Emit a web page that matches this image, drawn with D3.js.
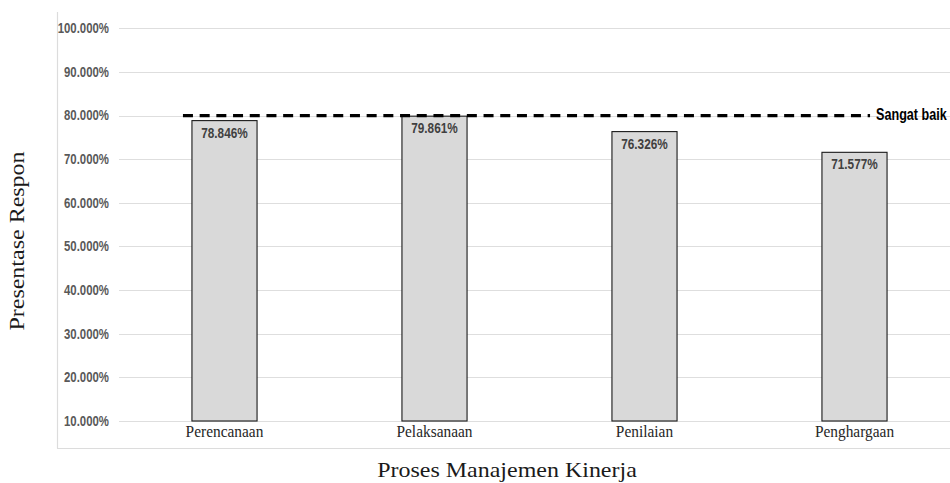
<!DOCTYPE html>
<html>
<head>
<meta charset="utf-8">
<script src="https://cdn.jsdelivr.net/npm/d3@7"></script>
<style>
  html, body { margin: 0; padding: 0; background: #fff; }
  svg { display: block; }
</style>
</head>
<body>
<script>
// Survey result per stage of the performance-management process
const categories = ["Perencanaan", "Pelaksanaan", "Penilaian", "Penghargaan"];
const values = [0.78846, 0.79861, 0.76326, 0.71577];
const valueLabels = ["78.846%", "79.861%", "76.326%", "71.577%"];
const yTicks = [0.1, 0.2, 0.3, 0.4, 0.5, 0.6, 0.7, 0.8, 0.9, 1.0];
const threshold = 0.8;
const thresholdLabel = "Sangat baik";

const W = 950, H = 483;
const STRETCH = 1.25; // tall, narrow lettering

const svg = d3.select("body").append("svg")
  .attr("width", W).attr("height", H);

const x = d3.scaleBand()
  .domain(categories)
  .range([119.5, 959.5])
  .paddingInner(0.69)
  .paddingOuter(0.345);

const y = d3.scaleLinear()
  .domain([0.1, 1.0])
  .range([421, 28.3]);

// text helper: places text with an optional horizontal/vertical stretch
function label(g, tx, ty, str, opts) {
  const sx = opts.sx || 1, sy = opts.stretch || STRETCH;
  return g.append("text")
    .attr("transform", `translate(${tx},${ty}) scale(${sx},${sy})`)
    .attr("text-anchor", opts.anchor || "middle")
    .attr("font-family", opts.family || "'Liberation Sans', Arial, sans-serif")
    .attr("font-size", opts.size)
    .attr("font-weight", opts.weight || "normal")
    .attr("fill", opts.fill || "#000")
    .text(str);
}

// chart frame (left and bottom edges)
svg.append("line").attr("x1", 57.5).attr("x2", 57.5).attr("y1", 12).attr("y2", 448.5)
  .attr("stroke", "#dcdcdc").attr("stroke-width", 1.2);
svg.append("line").attr("x1", 57).attr("x2", W).attr("y1", 448.5).attr("y2", 448.5)
  .attr("stroke", "#dcdcdc").attr("stroke-width", 1.2);

// gridlines + tick labels
const yAxis = svg.append("g");
yTicks.forEach(t => {
  yAxis.append("line")
    .attr("x1", 119).attr("x2", W)
    .attr("y1", Math.round(y(t)) + 0.5).attr("y2", Math.round(y(t)) + 0.5)
    .attr("stroke", "#dedede").attr("stroke-width", 1.2);
  label(yAxis, 109, y(t) + 4.8, d3.format(".3%")(t), {
    anchor: "end", size: 11.4, weight: "bold", fill: "#595959"
  });
});

// bars
const bars = svg.append("g");
bars.selectAll("rect")
  .data(categories)
  .join("rect")
  .attr("x", d => x(d))
  .attr("y", (d, i) => y(values[i]))
  .attr("width", x.bandwidth())
  .attr("height", (d, i) => y(0.1) - y(values[i]))
  .attr("fill", "#d9d9d9")
  .attr("stroke", "#1a1a1a")
  .attr("stroke-width", 1.1);

// value labels inside the bar tops
categories.forEach((c, i) => {
  label(bars, x(c) + x.bandwidth() / 2, y(values[i]) + 17, valueLabels[i], {
    size: 11.8, weight: "bold", fill: "#404040"
  });
});

// threshold line
const x0 = x(categories[0]) - 9;
const x1 = x(categories[categories.length - 1]) + x.bandwidth() - 17;
svg.append("line")
  .attr("x1", x0).attr("x2", x1)
  .attr("y1", y(threshold)).attr("y2", y(threshold))
  .attr("stroke", "#000").attr("stroke-width", 3.2)
  .attr("stroke-dasharray", "10,6.7");
label(svg, x1 + 6, y(threshold) + 4, thresholdLabel, {
  anchor: "start", size: 12.6, weight: "bold", fill: "#000"
});

// category labels
const serif = "'Liberation Serif', 'Times New Roman', serif";
categories.forEach(c => {
  label(svg, x(c) + x.bandwidth() / 2, 437, c, {
    size: 15.4, family: serif, fill: "#262626", stretch: 1.12
  });
});

// axis titles
label(svg, 507, 477, "Proses Manajemen Kinerja", {
  size: 22, family: serif, fill: "#1a1a1a", sx: 1.09, stretch: 1.0
});
svg.append("text")
  .attr("transform", "translate(24,241) rotate(-90) scale(1.2,1)")
  .attr("text-anchor", "middle")
  .attr("font-family", serif)
  .attr("font-size", 20)
  .attr("fill", "#1a1a1a")
  .text("Presentase Respon");
</script>
</body>
</html>
